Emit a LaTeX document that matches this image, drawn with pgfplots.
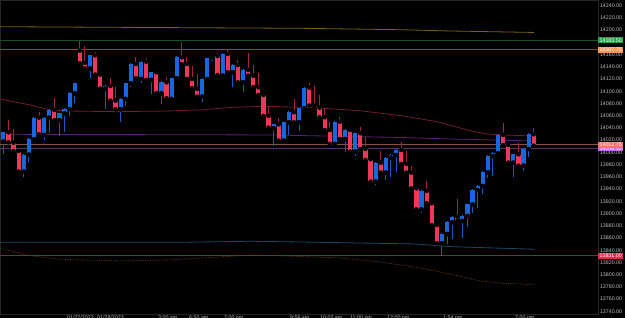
\documentclass[border=0pt]{standalone}
\usepackage{pgfplots}
\pgfplotsset{compat=1.18}
\usepackage{pgfplotstable}
\usepackage{fontspec}
\setmainfont{Liberation Sans}
\definecolor{upc}{RGB}{22,104,226}
\definecolor{dnc}{RGB}{242,54,90}
\definecolor{upw}{RGB}{20,90,205}
\definecolor{dnw}{RGB}{165,36,58}
\definecolor{goldl}{RGB}{120,95,22}
\definecolor{greenl}{RGB}{22,80,40}
\definecolor{orangel}{RGB}{140,76,32}
\definecolor{mared}{RGB}{110,30,42}
\definecolor{mapurple}{RGB}{92,32,112}
\definecolor{salmonl}{RGB}{130,82,72}
\definecolor{purplel}{RGB}{90,52,110}
\definecolor{teall}{RGB}{30,70,100}
\definecolor{redl}{RGB}{170,22,52}
\definecolor{dotl}{RGB}{105,62,22}
\definecolor{framec}{RGB}{38,38,38}
\definecolor{labc}{RGB}{190,190,190}
\definecolor{bgreen}{RGB}{32,165,72}
\definecolor{borange}{RGB}{255,150,82}
\definecolor{bsalmon}{RGB}{255,112,104}
\definecolor{bpurple}{RGB}{200,102,230}
\definecolor{bred}{RGB}{240,38,78}

\pgfplotstableread{
i o h l c
1 14017.6 14034.0 13996.9 14032.8
5 13968.5 13998.0 13960.3 13996.3
6 13996.3 14023.0 13983.8 14021.4
7 14021.4 14058.0 14019.0 14056.8
9 14028.5 14058.0 14020.3 14056.8
10 14056.8 14071.0 14032.3 14069.4
12 14052.5 14065.0 14027.4 14063.9
13 14063.9 14072.0 14033.9 14071.0
14 14071.0 14098.0 14059.6 14096.6
15 14096.6 14114.0 14081.4 14113.0
18 14137.5 14160.0 14122.3 14158.8
21 14104.3 14110.0 14071.0 14108.6
24 14070.5 14089.0 14050.3 14087.4
25 14087.4 14114.0 14075.9 14113.0
26 14113.0 14146.0 14107.6 14144.6
28 14120.1 14150.0 14113.0 14148.4
30 14118.5 14132.0 14095.5 14131.0
32 14096.6 14116.0 14079.2 14114.6
34 14087.4 14122.0 14085.0 14121.2
35 14121.2 14157.0 14118.5 14155.5
40 14091.2 14121.0 14083.0 14120.1
41 14120.1 14155.0 14118.0 14153.9
42 14155.5 14159.0 14150.0 14157.7
44 14125.5 14162.0 14124.0 14161.0
46 14131.0 14144.0 14106.5 14143.0
48 14114.6 14136.0 14098.3 14134.8
54 14039.4 14047.0 14010.5 14045.9
56 14019.2 14050.0 14017.0 14049.2
57 14049.2 14067.0 14028.5 14065.6
59 14049.2 14073.0 14035.6 14072.1
60 14072.1 14107.0 14070.0 14105.9
66 14013.8 14051.0 14012.0 14050.3
68 14021.9 14038.0 14000.1 14036.6
70 14001.2 14032.0 13994.7 14031.2
74 13952.1 13984.0 13946.7 13983.2
76 13966.9 13993.0 13954.9 13991.4
77 13991.4 13997.0 13959.2 13995.8
78 13995.8 14005.0 13967.4 14003.9
83 13906.9 13938.0 13901.4 13936.9
87 13851.3 13868.0 13830.5 13866.5
88 13866.5 13887.0 13849.6 13885.6
89 13885.6 13896.0 13858.3 13894.9
91 13887.8 13897.0 13859.4 13896.0
92 13896.0 13916.0 13878.5 13915.0
93 13915.0 13940.0 13901.4 13938.5
94 13938.5 13946.0 13908.5 13945.0
95 13945.0 13969.0 13931.4 13967.4
96 13967.4 13995.0 13957.6 13994.1
97 13994.1 14000.0 13962.0 13998.5
98 13998.5 14030.0 13997.0 14028.5
101 13983.2 13998.0 13960.3 13996.8
103 13978.3 14007.0 13970.1 14005.6
104 14005.6 14031.0 13993.0 14029.6
}\upt

\pgfplotstableread{
i o h l c
2 14032.8 14053.0 14015.0 14016.5
3 14015.9 14038.3 14000.0 14002.3
4 14002.3 14004.0 13966.0 13968.5
8 14056.8 14065.6 14027.0 14029.6
11 14069.4 14088.5 14051.0 14052.5
16 14166.4 14182.3 14144.0 14145.7
17 14146.3 14174.1 14136.0 14137.5
19 14158.8 14163.7 14126.0 14127.2
20 14127.2 14128.0 14102.0 14104.3
22 14108.6 14122.3 14083.0 14084.6
23 14084.6 14107.6 14069.0 14070.5
27 14144.6 14156.6 14120.0 14121.2
29 14148.4 14153.9 14117.0 14118.5
31 14131.0 14132.0 14095.0 14096.6
33 14114.6 14123.9 14087.0 14088.5
36 14155.5 14181.2 14143.0 14144.6
37 14144.6 14156.6 14118.0 14120.1
38 14120.1 14141.4 14103.0 14104.8
39 14103.7 14128.3 14090.0 14091.2
43 14157.7 14162.1 14125.0 14126.6
45 14161.0 14169.2 14129.0 14131.0
47 14143.0 14151.2 14113.0 14114.6
49 14134.8 14162.1 14124.0 14125.5
50 14125.5 14143.0 14105.0 14106.5
51 14106.5 14130.5 14092.0 14093.9
52 14093.9 14095.0 14058.0 14059.6
53 14059.6 14075.9 14039.0 14040.5
55 14045.9 14056.8 14018.0 14019.2
58 14065.6 14086.8 14048.0 14049.2
61 14105.9 14113.0 14075.0 14076.5
62 14076.5 14109.2 14072.0 14073.2
63 14073.2 14093.9 14056.0 14057.4
64 14057.4 14072.1 14035.0 14036.6
65 14036.6 14050.3 14012.0 14013.8
67 14050.3 14058.0 14020.0 14021.9
69 14036.6 14038.0 14000.0 14001.2
71 14031.2 14042.1 14004.0 14005.6
72 14005.6 14024.7 13986.0 13987.6
73 13988.7 13990.0 13951.0 13952.1
75 13983.2 14002.8 13965.0 13966.9
79 14003.9 14017.6 13980.0 13981.0
80 13981.0 14002.8 13965.0 13966.9
81 13966.9 13977.8 13940.0 13941.2
82 13941.2 13943.0 13905.0 13906.9
84 13936.9 13953.2 13915.0 13916.7
85 13916.7 13918.0 13880.0 13881.2
86 13881.2 13883.0 13850.0 13851.3
90 13894.9 13923.2 13886.0 13887.8
99 14028.5 14047.6 14011.0 14012.1
100 14012.1 14013.0 13982.0 13983.2
102 13996.8 14014.8 13977.0 13978.3
105 14029.6 14039.4 14010.0 14011.0
}\dnt

\begin{document}
\begin{tikzpicture}
\fill[black] (0,0) rectangle (625pt,318pt);
\begin{axis}[
  at={(0pt,4pt)}, anchor=south west,
  scale only axis, width=598pt, height=314pt,
  xmin=0.347, xmax=117.6, ymin=13735.6, ymax=14249.3,
  clip=false,
  axis line style={draw=framec, line width=0.8pt},
  major tick length=0pt,
  tick style={draw=none},
  scaled y ticks=false,
  /pgf/number format/assume math mode=true,
  ytick={13740,13760,13780,13800,13820,13840,13860,13880,13900,13920,13940,13960,13980,14000,14020,14040,14060,14080,14100,14120,14140,14160,14200,14220,14240},
  yticklabel pos=right,
  yticklabel={\pgfmathprintnumber[fixed,precision=0,1000 sep={}]{\tick}.00},
  yticklabel style={font=\fontsize{5.3}{6}\selectfont, text=labc, anchor=west, inner sep=1.8pt},
  xtick={13.48,19.37,31.33,37.41,44.27,57.21,63.09,68.97,76.23,87.21,101.33},
  xticklabels={01/27/2023,01/28/2023,3:00 am,6:50 am,7:00 pm,9:56 am,10:02 am,11:00 pm,12:00 pm,1:54 pm,7:00 pm},
  xticklabel style={font=\fontsize{5.3}{6}\selectfont, text=labc, anchor=north west, inner sep=0pt, yshift=-1.6pt},
]
% horizontal levels
\addplot[greenl, line width=0.8pt] coordinates {(0.347,14183.5) (117.6,14183.5)};
\addplot[orangel, line width=0.8pt] coordinates {(0.347,14167.75) (117.6,14167.75)};
\addplot[purplel, line width=0.8pt] coordinates {(0.347,14006.5) (117.6,14006.5)};
\addplot[salmonl, line width=0.8pt] coordinates {(0.347,14012.75) (117.6,14012.75)};
\addplot[redl, line width=0.8pt] coordinates {(0.347,13831) (117.6,13831)};
% moving averages
\addplot[goldl, line width=0.8pt] coordinates {(0.35,14205.6) (59.17,14203.0) (78.78,14200.7) (88.58,14198.6) (105.05,14196.2)};
\addplot[mared, line width=0.8pt] coordinates {(0.35,14087.4) (6.23,14077.6) (10.15,14069.4) (13.43,14067.7) (23.23,14066.6) (33.03,14067.7) (39.56,14069.4) (46.03,14073.8) (52.64,14075.4) (61.72,14073.1) (70.94,14068.2) (79.37,14059.6) (86.03,14050.2) (92.5,14035.5) (95.84,14030.1) (98.97,14028.5) (104.86,14026.8)};
\addplot[mapurple, line width=0.8pt] coordinates {(0.35,14029.6) (53.29,14028.5) (78.78,14024.4) (88.58,14021.9) (105.05,14018.7)};
\addplot[teall, line width=0.8pt] coordinates {(0.35,13852.9) (35.64,13852.9) (49.37,13854.6) (59.17,13853.4) (81.72,13850.2) (88.58,13845.8) (105.25,13841.5)};
\addplot[dotl, line width=0.7pt, densely dotted] coordinates {(0.35,13843.1) (6.23,13831.0) (12.11,13825.1) (23.88,13822.4) (33.68,13824.0) (43.48,13828.9) (49.37,13832.2) (59.17,13829.7) (67.01,13827.3) (74.86,13820.8) (82.70,13811.0) (88.58,13801.1) (94.46,13789.7) (98.39,13786.4) (105.25,13783.2)};
% wicks
\addplot[only marks, mark=none, error bars/.cd, y dir=both, y explicit, error mark=none,
  error bar style={draw=upw, line width=1pt}]
  table[x=i, y=o, y error plus expr=\thisrow{h}-\thisrow{o}, y error minus expr=\thisrow{o}-\thisrow{l}] {\upt};
\addplot[only marks, mark=none, error bars/.cd, y dir=both, y explicit, error mark=none,
  error bar style={draw=dnw, line width=1pt}]
  table[x=i, y=o, y error plus expr=\thisrow{h}-\thisrow{o}, y error minus expr=\thisrow{o}-\thisrow{l}] {\dnt};
% bodies
\addplot[only marks, mark=none, error bars/.cd, y dir=plus, y explicit, error mark=none,
  error bar style={draw=upc, line width=4.2pt}]
  table[x=i, y=o, y error plus expr=\thisrow{c}-\thisrow{o}] {\upt};
\addplot[only marks, mark=none, error bars/.cd, y dir=plus, y explicit, error mark=none,
  error bar style={draw=dnc, line width=4.2pt}]
  table[x=i, y=c, y error plus expr=\thisrow{o}-\thisrow{c}] {\dnt};
\coordinate (bg) at (axis cs:117.6,14183.5);
\coordinate (bo) at (axis cs:117.6,14167.75);
\coordinate (bs) at (axis cs:117.6,14012.75);
\coordinate (bp) at (axis cs:117.6,14006.5);
\coordinate (br) at (axis cs:117.6,13831);
\end{axis}
\tikzset{badge/.style={anchor=west, inner sep=0pt, minimum width=25pt, minimum height=5.9pt, text=white, font=\fontsize{5.3}{6}\selectfont}}
\node[badge, fill=bgreen] at (bg) {14183.50};
\node[badge, fill=borange] at (bo) {14167.75};
\node[badge, fill=bpurple] at (bp) {14006.50};
\node[badge, fill=bsalmon] at (bs) {14012.75};
\node[badge, fill=bred] at (br) {13831.00};
\pgfresetboundingbox
\path[use as bounding box] (0,0) rectangle (625pt,318pt);
\end{tikzpicture}
\end{document}
